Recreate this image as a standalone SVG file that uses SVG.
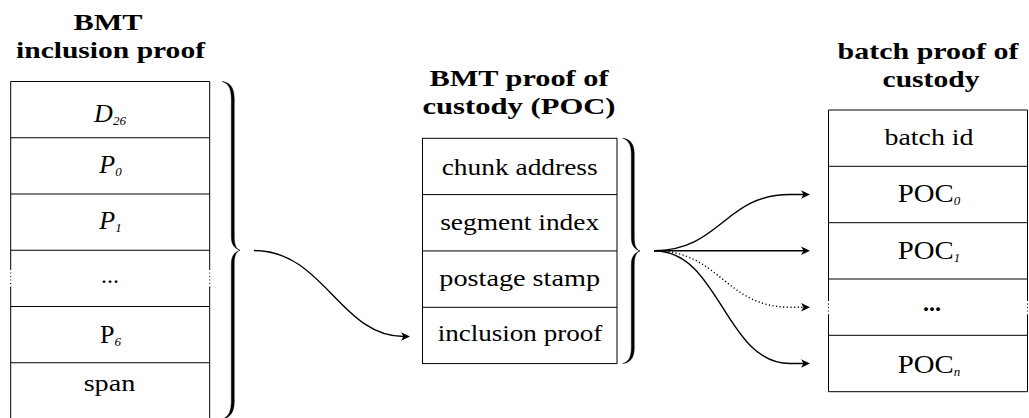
<svg xmlns="http://www.w3.org/2000/svg" width="1029" height="418" viewBox="0 0 1029 418">
<style>
.t{font-family:"Liberation Serif","Times New Roman",serif;font-size:24px;fill:#000;text-anchor:middle}
.m{font-family:"Liberation Serif","Times New Roman",serif;font-size:26px;fill:#000;text-anchor:middle}
.h{font-family:"Liberation Serif","Times New Roman",serif;font-size:24px;font-weight:bold;fill:#000;text-anchor:middle}
.i{font-style:italic}
.s{font-style:italic;font-size:13px}
.b{stroke:#000;stroke-width:1;fill:none}
.d{stroke:#000;stroke-width:1;fill:none;stroke-dasharray:1 2.5}
.br{fill:#000;stroke:#000;stroke-width:0.4}
.c{stroke:#000;stroke-width:1.4;fill:none;marker-end:url(#arr)}
.cd{stroke:#000;stroke-width:1.4;fill:none;stroke-dasharray:1.2 2.4;marker-end:url(#arr)}
</style>
<defs>
<marker id="arr" viewBox="0 -5 10 10" refX="3" refY="0" markerWidth="10" markerHeight="10" markerUnits="userSpaceOnUse" orient="auto">
<path d="M0,-4.2 L9,0 L0,4.2 L2.5,0 Z" fill="#000" stroke="none"/>
</marker>
</defs>
<rect width="1029" height="418" fill="#fff"/>

<g id="inclusion-proof">
<text class="h" x="108" y="30" textLength="69" lengthAdjust="spacingAndGlyphs">BMT</text>
<text class="h" x="110.5" y="58" textLength="189" lengthAdjust="spacingAndGlyphs">inclusion proof</text>
<path class="b" d="M10.7,81.5 H209.7 M10.7,137.75 H209.7 M10.7,194 H209.7 M10.7,250.25 H209.7 M10.7,306.5 H209.7 M10.7,362.75 H209.7"/>
<path class="b" d="M10.7,81.5 V269 M10.7,287 V420 M209.7,81.5 V269 M209.7,287 V420"/>
<path class="d" d="M10.7,269 V287 M209.7,269 V287"/>
<g id="cell-d26"><text class="m" x="110" y="122"><tspan class="i">D</tspan><tspan class="s" dy="3">26</tspan></text></g>
<g id="cell-p0"><text class="m" x="110.5" y="172.5"><tspan class="i">P</tspan><tspan class="s" dy="3">0</tspan></text></g>
<g id="cell-p1"><text class="m" x="110.5" y="229"><tspan class="i">P</tspan><tspan class="s" dy="3">1</tspan></text></g>
<g id="cell-dots"><text class="t" x="110" y="283">...</text></g>
<g id="cell-p6"><text class="m" x="110.5" y="342.5">P<tspan class="s" dy="3">6</tspan></text></g>
<g id="cell-span"><text class="t" x="109.5" y="391" textLength="51.7" lengthAdjust="spacingAndGlyphs">span</text></g>
<path id="brace-left" class="br" d="M222,81.5 C229,82 234.3,86.5 234.3,99 L234.3,237 C234.3,244.5 236,248.8 240,250.25 C236,251.7 234.3,256 234.3,263.5 L234.3,401 C234.3,413.5 229,418.5 222,419 C227.5,417.5 231.3,413 231.3,401 L231.3,263.5 C231.3,256 234.5,252 240,250.25 C234.5,248.5 231.3,244.5 231.3,237 L231.3,99 C231.3,87 227.5,83 222,81.5 Z"/>
</g>

<g id="poc">
<text class="h" x="519" y="86" textLength="179" lengthAdjust="spacingAndGlyphs">BMT proof of</text>
<text class="h" x="519" y="114" textLength="193" lengthAdjust="spacingAndGlyphs">custody (POC)</text>
<rect class="b" x="422.5" y="138.3" width="194.5" height="225.3"/>
<path class="b" d="M422.5,194.6 H617 M422.5,250.95 H617 M422.5,307.3 H617"/>
<g id="cell-chunk-address"><text class="t" x="519.7" y="175" textLength="156" lengthAdjust="spacingAndGlyphs">chunk address</text></g>
<g id="cell-segment-index"><text class="t" x="519.7" y="229.5" textLength="159" lengthAdjust="spacingAndGlyphs">segment index</text></g>
<g id="cell-postage-stamp"><text class="t" x="519.7" y="285.5" textLength="160.7" lengthAdjust="spacingAndGlyphs">postage stamp</text></g>
<g id="cell-inclusion-proof"><text class="t" x="520" y="340.5" textLength="164.6" lengthAdjust="spacingAndGlyphs">inclusion proof</text></g>
<path id="brace-mid" class="br" d="M622.5,138.3 C629,138.8 634.3,142.8 634.3,154 L634.3,238 C634.3,245 636,249.5 640,251 C636,252.5 634.3,257 634.3,264 L634.3,348 C634.3,359 629,363.1 622.5,363.6 C627.5,362.3 631.3,358.5 631.3,348 L631.3,264 C631.3,257 634.5,252.7 640,251 C634.5,249.3 631.3,245 631.3,238 L631.3,154 C631.3,143.5 627.5,139.6 622.5,138.3 Z"/>
</g>

<g id="batch-poc">
<text class="h" x="928" y="58.5" textLength="181" lengthAdjust="spacingAndGlyphs">batch proof of</text>
<text class="h" x="931" y="86.5" textLength="97" lengthAdjust="spacingAndGlyphs">custody</text>
<path class="b" d="M828.5,110 H1027.5 M828.5,166.3 H1027.5 M828.5,222.7 H1027.5 M828.5,279 H1027.5 M828.5,335.3 H1027.5 M828.5,391.7 H1027.5"/>
<path class="b" d="M828.5,110 V300 M828.5,314.5 V391.7 M1027.5,110 V300 M1027.5,314.5 V391.7"/>
<path class="d" d="M828.5,300 V314.5 M1027.5,300 V314.5"/>
<g id="cell-batch-id"><text class="t" x="929" y="145" textLength="89" lengthAdjust="spacingAndGlyphs">batch id</text></g>
<g id="cell-poc0"><text class="m" x="929" y="201.7"><tspan textLength="56" lengthAdjust="spacingAndGlyphs">POC</tspan><tspan class="s" dy="3">0</tspan></text></g>
<g id="cell-poc1"><text class="m" x="929" y="259"><tspan textLength="56" lengthAdjust="spacingAndGlyphs">POC</tspan><tspan class="s" dy="3">1</tspan></text></g>
<g id="cell-pocdots"><text class="h" x="932" y="311" style="font-size:24px">...</text></g>
<g id="cell-pocn"><text class="m" x="929" y="372.5"><tspan textLength="56" lengthAdjust="spacingAndGlyphs">POC</tspan><tspan class="s" dy="3">n</tspan></text></g>
</g>

<g id="connectors">
<path class="c" d="M254,250.5 C324,250.5 340,336.5 404,336.5"/>
<path class="c" d="M654,250.7 C720,250.7 725,194.5 790,194.5 L804,194.5"/>
<path class="c" d="M654,250.7 L804,250.7"/>
<path class="cd" d="M654,250.7 C720,250.7 725,307.2 790,307.2 L804,307.2"/>
<path class="c" d="M654,250.7 C720,250.7 725,363.5 790,363.5 L804,363.5"/>
</g>
</svg>
